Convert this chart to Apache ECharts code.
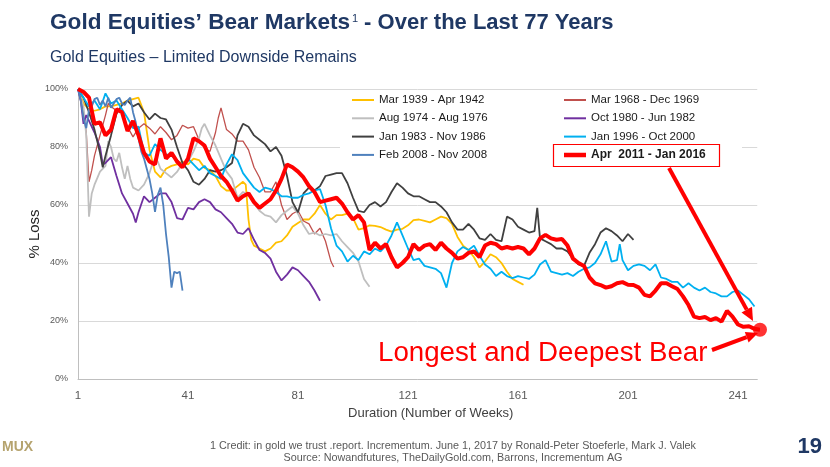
<!DOCTYPE html>
<html><head><meta charset="utf-8">
<script src="https://cdn.jsdelivr.net/npm/echarts@6/dist/echarts.min.js"></script>
<style>html,body{margin:0;padding:0;background:#fff}#c{width:830px;height:467px}</style>
</head><body><div id="c"></div><script>
// Series names (legend order: left column then right column)
const names = ['Mar 1939 - Apr 1942','Mar 1968 - Dec 1969','Aug 1974 - Aug 1976','Oct 1980 - Jun 1982',
  'Jan 1983 - Nov 1986','Jan 1996 - Oct 2000','Feb 2008 - Nov 2008','Apr  2011 - Jan 2016'];
const xTickWeeks = [1,41,81,121,161,201,241];
const yTicks = [0,20,40,60,80,100];
// [week, % of starting value]
const s1939 = [[1,100],[3,95],[5,93],[7,92.5],[9,93],[11,94],[13,94],[15,94.5],[17,95],[19,96],[21,96.5],[23,97],[25,92],[27,79],[29,71.5],[31,69.5],[33,72.5],[35,73.5],[37,74],[39,75],[41,74],[43,76],[45,75.5],[47,72.8],[49,72],[51,70],[53,66.5],[55,65],[57,65],[59,66.5],[61,68],[62,67],[63,55],[64,48],[65,46],[67,45],[69,44],[71,45],[73,47],[75,47.5],[77,49.5],[79,52.5],[81,53.8],[83,55],[85,55],[87,57],[89,60],[91,57],[93,55],[95,56.5],[97,56.5],[99,57],[101,55.5],[103,51.5],[105,52],[107,53],[109,52.8],[111,52.4],[113,51.5],[115,50.8],[117,51.5],[119,51.8],[121,53],[123,54.8],[125,55],[127,54.5],[129,54],[131,55],[133,56],[135,55.5],[137,53.5],[139,49],[141,46],[143,44.5],[145,42],[147,38.5],[149,40.5],[151,43],[153,42],[155,40],[157,37],[159,34.5],[161,33.5],[163,32.5]];
const s1968 = [[1,100],[2,96],[3,92],[4,85],[5,68],[6,72],[7,77],[9,84],[11,91],[12,95],[13,94],[15,92.5],[17,92],[19,87],[21,83.5],[23,86.5],[25,88],[27,86.5],[29,84.5],[31,87],[33,85],[35,82.5],[37,84],[39,87.5],[41,86.5],[43,87],[45,82.5],[47,79.5],[49,78.5],[51,85],[52,90],[53,93.5],[55,86],[57,84.5],[59,82],[61,82],[63,79],[65,73],[67,69.5],[69,64.5],[71,64.5],[73,68],[75,60],[77,55],[79,57],[81,58],[83,54.5],[85,53.5],[87,50],[89,52],[91,47.5],[93,40.5],[94,38.6]];
const s1974 = [[1,100],[2,97],[3,94],[4,84],[5,56],[6,64],[7,67],[9,71.5],[11,73.5],[12,82],[13,80],[14,76],[15,75],[16,78],[17,73],[18,69],[19,73.5],[20,69],[21,66],[23,65],[25,67],[27,71],[28,74],[29,76],[30,75],[31,72.5],[33,71],[35,69.5],[37,71.4],[39,74.5],[41,75],[43,78.5],[45,83],[46,86.5],[47,88],[49,84],[51,80.5],[53,76],[55,71.5],[57,69],[59,62.5],[61,64.5],[63,63.5],[65,60.5],[67,58],[69,56.5],[71,56],[73,54],[75,56.5],[77,58],[79,59.5],[81,57],[83,53],[85,50],[87,50.5],[89,49.5],[91,50],[93,49.5],[95,50],[97,47.5],[99,45.5],[101,43.5],[103,40.5],[105,34.5],[107,31.8]];
const s1980 = [[1,100],[2,96],[3,88],[4,91],[5,89],[7,85],[9,80],[10,74],[11,74.5],[13,76.5],[15,70],[17,64],[19,60.5],[21,57],[22,54],[23,57.5],[25,63],[27,61],[29,62.5],[31,64],[33,64],[35,61],[37,55.5],[39,55],[41,59],[43,58.5],[45,61],[47,62],[49,61],[51,58.5],[53,57.5],[55,55.5],[57,53.5],[59,50.5],[61,50],[63,52],[65,48],[67,44.5],[69,43.5],[71,41.5],[73,37],[75,34],[77,36],[79,38.5],[81,37.5],[83,35.5],[85,33.5],[87,30.5],[89,27]];
const s1983 = [[1,100],[3,97],[5,92],[7,86],[9,78],[10,73],[11,77],[13,84],[15,91.5],[17,94.5],[19,96],[21,94],[23,95],[25,92],[27,89.5],[29,91.5],[31,90],[33,89.5],[35,86],[37,80],[39,74.5],[41,72],[43,68],[45,67],[47,69],[49,72],[51,71.5],[53,72],[55,73],[57,74.5],[59,84],[61,88],[63,87],[65,84],[67,82.5],[69,81],[71,78.5],[73,80],[75,77],[77,70],[79,61],[81,57.5],[83,64],[85,66],[87,65],[89,66.5],[91,70],[93,70.5],[95,71],[97,71],[99,67.5],[101,62.5],[103,58],[105,57.5],[107,60],[109,61],[111,59.5],[113,61],[115,64.5],[117,67.5],[119,66],[121,64],[123,63],[125,63],[127,62],[129,61],[131,61],[133,59.5],[135,57.5],[137,54],[139,51.5],[141,51.5],[143,53.5],[145,51.5],[147,48.5],[149,48],[151,50],[153,48],[155,47.5],[157,56],[159,55],[161,52.5],[163,51.5],[165,50.5],[167,51],[168,59],[169,48.5],[171,47.5],[173,46.5],[175,45],[177,45],[179,44],[181,41.5],[183,39.5],[185,39],[187,43.5],[189,46.5],[191,50.5],[193,52],[195,51],[197,49.5],[199,47.5],[201,50],[203,48]];
const s1996 = [[1,100],[3,97],[5,94],[7,96],[9,93],[11,98.5],[13,95],[15,96],[17,93],[19,90],[21,86.5],[23,87],[25,78],[27,77],[29,81],[31,79],[33,77.5],[35,77],[37,75.5],[39,73.5],[41,76],[43,74],[45,72],[47,73.5],[49,71],[51,70],[53,69],[55,74],[57,77.5],[59,75.5],[61,71],[63,68.5],[65,66],[67,64.5],[69,66],[71,65.5],[73,64.5],[75,63],[77,63],[79,62.5],[81,62.5],[83,63.5],[85,64],[87,65],[89,65.5],[91,60],[93,52],[95,46],[97,44],[99,40.5],[101,42.5],[103,41],[105,44],[107,43],[109,45],[111,44],[113,46],[115,49.5],[117,54],[119,49.5],[121,45],[123,41],[125,41.5],[127,39],[129,38.5],[131,38],[133,36.5],[135,31.5],[137,40],[139,44],[141,45.5],[143,44.5],[145,46],[147,42.5],[149,39.5],[151,38],[153,35.5],[155,37],[157,35.5],[159,34.8],[161,35.5],[163,35],[165,34.5],[167,36],[169,39.5],[171,41],[173,37],[175,36.5],[177,36],[179,36.5],[181,35.5],[183,37],[185,38],[187,38.5],[189,40],[191,43],[193,47.5],[195,40.5],[197,41],[198,46.5],[199,41],[201,37.5],[203,39],[205,39.5],[207,39],[209,37.5],[211,39.5],[213,35],[215,34.5],[217,33.5],[219,33.5],[221,31.5],[223,33],[225,31.5],[227,30.5],[229,31.5],[231,30],[233,29.5],[235,28.5],[237,28.5],[239,30],[241,30.5],[243,29],[245,27.5],[247,25]];
const s2008 = [[1,100],[2,96],[3,90],[4,86.5],[5,93],[6,94],[7,96.5],[8,97],[9,94.5],[10,96],[11,94],[12,97],[13,93.5],[14,95],[15,96.5],[16,97],[17,95],[18,94.5],[19,96],[20,97],[21,92],[22,88.5],[23,83],[24,78.5],[25,76],[26,72.5],[27,69],[28,64],[29,57.6],[30,63.5],[31,66],[32,60],[33,50],[34,42],[35,31.5],[36,37],[37,36.5],[38,37],[39,30.5]];
const s2011 = [[1,100],[3,99],[5,97],[7,88],[9,88.5],[11,84],[13,86],[15,93],[17,92],[19,85.5],[21,89],[23,84],[25,78],[27,75],[29,74],[31,83],[33,76],[35,78],[37,75],[39,73],[41,76],[43,83],[45,82],[47,80.5],[49,76],[51,73],[53,70],[55,68],[57,65],[59,61.5],[61,63],[63,64],[65,61],[67,59],[69,60.5],[71,62],[73,65],[75,69],[77,74],[79,73],[81,71.5],[83,69.5],[85,66.5],[87,64.5],[89,61],[91,61.5],[93,62],[95,62.5],[97,60.5],[99,57.5],[101,55],[103,56.5],[105,54],[107,44.5],[109,47],[111,45],[113,46.5],[115,42],[117,38.5],[119,40],[121,42],[123,46.5],[125,44.5],[127,46],[129,46.5],[131,44.5],[133,47],[135,45],[137,43.5],[139,41.5],[141,42],[143,43.5],[145,44],[147,42],[149,46],[151,47],[153,46.5],[155,45],[157,45.5],[159,45],[161,45.5],[163,45],[165,43],[167,45],[169,48.5],[171,49.7],[173,48.5],[175,48],[177,48.3],[179,46],[181,41.5],[183,40],[185,39],[187,35],[189,33],[191,32.4],[193,31.5],[195,32],[197,33],[199,33.4],[201,32.5],[203,32.4],[205,31.5],[207,29],[209,28.5],[211,30.5],[213,33],[215,33],[217,32],[219,31],[221,28.5],[223,25.5],[225,21.5],[227,21],[229,21.4],[231,20.3],[233,21],[235,19.8],[237,23.5],[239,21.5],[241,18.8],[243,18],[245,18.2],[247,17.3],[249,17]];

const allData = [s1939,s1968,s1974,s1980,s1983,s1996,s2008,s2011];
const colors = ['#FFC000','#C0504D','#BFBFBF','#7030A0','#404040','#00B0F0','#4F81BD','#FF0000'];
const widths = [1.8,1.3,1.8,1.8,1.8,1.8,1.8,4];

const chart = echarts.init(document.getElementById('c'), null, {renderer:'canvas'});
const toXY = d => d.map(p => [p[0]-1, p[1]]);
const series = allData.map((d,i) => ({
  name: names[i], type:'line', data: toXY(d), symbol:'none', showSymbol:false,
  lineStyle:{color:colors[i], width:widths[i]}, itemStyle:{color:colors[i]},
  z: 2 + i*0.1, animation:false, clip: i !== 7, emphasis:{disabled:true}
}));
// end-point dot of the latest bear market
series.push({type:'scatter', name:'end', data: toXY([s2011[s2011.length-1]]), symbol:'circle', symbolSize:14,
  itemStyle:{color:'#FF0000'}, clip:false, z:3, animation:false, silent:true});

const font = 'Liberation Sans, Arial, sans-serif';
const narrow = 'Liberation Sans Narrow, Arial Narrow, Liberation Sans, sans-serif';
const legText = {fontFamily:font, fontSize:11.5, color:'#1a1a1a', lineHeight:14};
const legBase = {orient:'vertical', padding:0, itemWidth:22, itemGap:4.3, icon:'rect', textStyle:legText, z:10, selectedMode:false};
chart.setOption({
  animation:false,
  backgroundColor:'#fff',
  grid:{left:78, right:72.75, top:89, bottom:88, containLabel:false},
  xAxis:{type:'value', min:0, max:247, interval:40,
    axisLine:{show:true, lineStyle:{color:'#BFBFBF', width:1}}, axisTick:{show:false}, splitLine:{show:false},
    axisLabel:{margin:11, color:'#595959', fontFamily:narrow, fontSize:11.5,
      formatter: v => (xTickWeeks.indexOf(v+1) >= 0 ? String(v+1) : '')},
    name:'Duration (Number of Weeks)', nameLocation:'middle', nameGap:28,
    nameTextStyle:{color:'#404040', fontFamily:narrow, fontSize:13, padding:[0,0,0,26]}},
  yAxis:{type:'value', min:yTicks[0], max:yTicks[yTicks.length-1], interval:20,
    axisLine:{show:true, lineStyle:{color:'#BFBFBF', width:1}}, axisTick:{show:false},
    splitLine:{show:true, lineStyle:{color:'#D9D9D9', width:1}},
    axisLabel:{margin:10, color:'#595959', fontFamily:font, fontSize:9, formatter:'{value}%'},
    name:'% Loss', nameLocation:'middle', nameGap:36, nameMoveOverlap:false,
    nameTextStyle:{color:'#262626', fontFamily:font, fontSize:15}},
  legend:[
    Object.assign({}, legBase, {data:[names[0],names[2],names[4],names[6]], left:352, top:93, itemHeight:2}),
    Object.assign({}, legBase, {data:[names[1],names[3],names[5]], left:564, top:93, itemHeight:2}),
    Object.assign({}, legBase, {data:[{name:names[7], textStyle:{fontWeight:'bold', fontSize:12}}], left:564, top:148, itemHeight:4.5})
  ],
  series: series,
  graphic:[
    {type:'rect', z:5, silent:true, shape:{x:340, y:91, width:402, height:76}, style:{fill:'#fff'}},
    {type:'rect', z:20, silent:true, shape:{x:553.5, y:144.5, width:166, height:22}, style:{fill:'none', stroke:'#FF0000', lineWidth:1.2}},
    {type:'text', z:20, x:50, y:23, style:{text:'Gold Equities\u2019 Bear Markets', font:'bold 22.6px '+font, fill:'#1F3864', textVerticalAlign:'middle'}},
    {type:'text', z:20, x:352, y:19, style:{text:'1', font:'11px '+font, fill:'#1F3864', textVerticalAlign:'middle'}},
    {type:'text', z:20, x:358, y:23, style:{text:' - Over the Last 77 Years', font:'bold 22px '+font, fill:'#1F3864', textVerticalAlign:'middle'}},
    {type:'text', z:20, x:50, y:58, style:{text:'Gold Equities \u2013 Limited Downside Remains', font:'16px '+font, fill:'#1F3864', textVerticalAlign:'middle'}},
    {type:'text', z:20, x:378, y:353, style:{text:'Longest and Deepest Bear', font:'27.7px '+font, fill:'#FF0000', textVerticalAlign:'middle'}},
    {type:'line', z:20, silent:true, shape:{x1:669, y1:168, x2:746.7, y2:309.6}, style:{stroke:'#FF0000', lineWidth:4}},
    {type:'polygon', z:20, silent:true, shape:{points:[[753,321],[741.5,312.5],[752,306.7]]}, style:{fill:'#FF0000'}},
    {type:'line', z:20, silent:true, shape:{x1:712, y1:350, x2:746.7, y2:337.2}, style:{stroke:'#FF0000', lineWidth:4}},
    {type:'polygon', z:20, silent:true, shape:{points:[[758,333],[748.6,342.4],[744.8,332]]}, style:{fill:'#FF0000'}},
    {type:'text', z:20, x:453, y:446, style:{text:'1 Credit: in gold we trust .report. Incrementum. June 1, 2017 by Ronald-Peter Stoeferle, Mark J. Valek', font:'10.8px '+narrow, fill:'#595959', textAlign:'center', textVerticalAlign:'middle'}},
    {type:'text', z:20, x:453, y:458, style:{text:'Source: Nowandfutures, TheDailyGold.com, Barrons, Incrementum AG', font:'10.8px '+narrow, fill:'#595959', textAlign:'center', textVerticalAlign:'middle'}},
    {type:'text', z:20, x:2, y:447, style:{text:'MUX', font:'bold 14px '+font, fill:'#B5A36E', textVerticalAlign:'middle'}},
    {type:'text', z:20, x:822, y:447, style:{text:'19', font:'bold 22px '+narrow, fill:'#1F3864', textAlign:'right', textVerticalAlign:'middle'}}
  ]
});
</script></body></html>
